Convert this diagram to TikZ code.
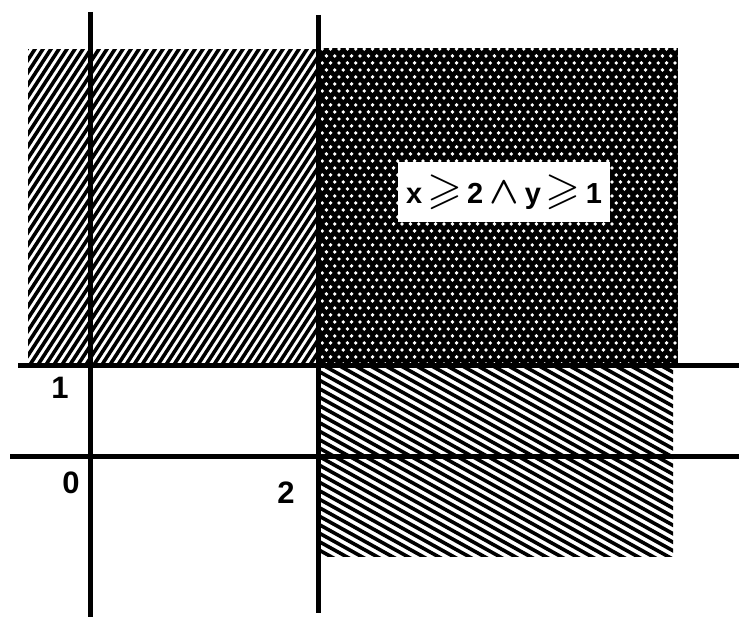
\documentclass[tikz,border=0pt]{standalone}
\usepackage{amssymb}
\usepackage{bm}
\usepackage{fontspec}
\setmainfont{Liberation Sans}
\newcommand{\bigsym}[1]{\scalebox{1.55}{$#1$}}
\begin{document}
\begin{tikzpicture}[x=1pt,y=1pt,
  axis/.style={line width=5pt},
  hatch/.style={line width=3.6pt},
  lab/.style={font=\fontsize{31}{31}\selectfont\bfseries, inner sep=0pt},
  boxlab/.style={fill=white, inner sep=0pt, minimum width=212pt, minimum height=60pt,
    font=\fontsize{29}{29}\selectfont\bfseries}]
\useasboundingbox (0,0) rectangle (739,617);
% left region: hatching /
\begin{scope}
  \clip (28,251) rectangle (318,567);
  \foreach \c in {-210,-202,...,325} \draw[hatch] (\c,240) -- ++(57:400);
\end{scope}
% upper right region: dotted screen
\begin{scope}
  \clip (318,251) rectangle (678,569);
  \fill[black] (318,251) rectangle (678,569);
  \foreach \j in {0,...,46} {
    \foreach \i in {0,...,45} {
      \fill[white] ({318+8.4*\i+4.2*mod(\j,2)},{253+7*\j}) circle (1.9pt);
    }
  }
\end{scope}
% lower right region: hatching \
\begin{scope}
  \clip (318,60) rectangle (673,251);
  \foreach \c in {55,63.5,...,480} \draw[hatch] (310,\c) -- ++(-29:430);
\end{scope}
% axes
\coordinate (v1t) at (90,605); \coordinate (v1b) at (90,0);
\coordinate (v2t) at (318,602); \coordinate (v2b) at (318,4);
\coordinate (h1l) at (18,251); \coordinate (h1r) at (739,251);
\coordinate (h0l) at (10,160); \coordinate (h0r) at (739,160);
\draw[axis] (v1t) -- (v1b);
\draw[axis] (v2t) -- (v2b);
\draw[axis] (h1l) -- (h1r);
\draw[axis] (h0l) -- (h0r);
% labels
\node[lab] (one) at (60,229) {1};
\node[lab] (zero) at (71,134) {0};
\node[lab] (two) at (286,124) {2};
\node[boxlab] (cond) at (504,425) {x\hspace{5pt}\bigsym{\geqslant}\hspace{5pt}2\hspace{6pt}\bigsym{\bm{\wedge}}\hspace{6pt}y\hspace{5pt}\bigsym{\geqslant}\hspace{5pt}1};
\end{tikzpicture}
\end{document}
